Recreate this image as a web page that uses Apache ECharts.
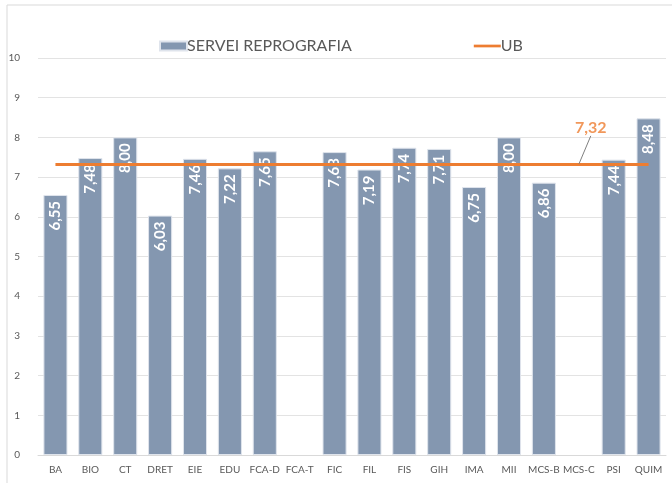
<!DOCTYPE html>
<html>
<head>
<meta charset="utf-8">
<script src="https://cdn.jsdelivr.net/npm/echarts@6/dist/echarts.min.js"></script>
<style>
  html, body { margin: 0; padding: 0; background: #fff; }
  #chart { width: 672px; height: 483px; }
</style>
</head>
<body>
<div id="chart"></div>
<script>
// Departments on the x axis
const categories = ['BA', 'BIO', 'CT', 'DRET', 'EIE', 'EDU', 'FCA-D', 'FCA-T', 'FIC', 'FIL',
  'FIS', 'GIH', 'IMA', 'MII', 'MCS-B', 'MCS-C', 'PSI', 'QUIM'];
// Satisfaction score per department (null = no data)
const reprografia = [6.55, 7.48, 8.00, 6.03, 7.46, 7.22, 7.65, null, 7.63, 7.19,
  7.74, 7.71, 6.75, 8.00, 6.86, null, 7.44, 8.48];
// University-wide average
const ubValue = 7.32;
const ubLabelIndex = 15;
const yTicks = [0, 1, 2, 3, 4, 5, 6, 7, 8, 9, 10];

const fmt = v => v.toFixed(2).replace('.', ',');

const chart = echarts.init(document.getElementById('chart'), null, { renderer: 'canvas' });

chart.setOption({
  animation: false,
  backgroundColor: '#ffffff',
  textStyle: { fontFamily: 'Lato, "Noto Sans", sans-serif' },
  graphic: [{
    type: 'rect',
    shape: { x: 7, y: 5, width: 700, height: 500 },
    style: { fill: 'none', stroke: '#d9d9d9', lineWidth: 1 },
    silent: true
  }],
  legend: {
    top: 38,
    left: 159,
    padding: 0,
    itemGap: 122,
    itemWidth: 27,
    itemHeight: 9,
    textStyle: { color: '#595959', fontSize: 16, padding: [0, 0, 0, -5] },
    data: [
      { name: 'SERVEI REPROGRAFIA', icon: 'rect' },
      { name: 'UB', icon: 'path://M0,3.5 L30,3.5 L30,6.5 L0,6.5 Z' }
    ]
  },
  grid: { left: 38, right: 6, top: 58, bottom: 28 },
  xAxis: {
    type: 'category',
    data: categories,
    axisLine: { lineStyle: { color: '#d9d9d9' } },
    axisTick: { show: false },
    axisLabel: { color: '#595959', fontSize: 10, interval: 0, margin: 10 }
  },
  yAxis: {
    type: 'value',
    min: yTicks[0],
    max: yTicks[yTicks.length - 1],
    interval: 1,
    axisLine: { show: false },
    axisTick: { show: false },
    axisLabel: { color: '#595959', fontSize: 10, margin: 18 },
    splitLine: { lineStyle: { color: '#e3e3e3' } }
  },
  series: [
    {
      name: 'SERVEI REPROGRAFIA',
      type: 'bar',
      data: reprografia,
      barWidth: '69%',
      itemStyle: { color: '#8497b0', borderColor: '#dfe4ec', borderWidth: 1 },
      label: {
        show: true,
        position: 'insideTop',
        rotate: 90,
        align: 'right',
        verticalAlign: 'middle',
        distance: 6,
        color: '#ffffff',
        fontWeight: 'bold',
        fontSize: 15,
        formatter: p => fmt(p.value)
      },
      z: 2
    },
    {
      name: 'UB',
      type: 'line',
      data: categories.map(() => ubValue),
      symbol: 'none',
      lineStyle: { color: '#ed7d31', width: 3 },
      itemStyle: { color: '#ed7d31' },
      z: 3,
      emphasis: { disabled: true }
    },
    {
      // invisible point carrying the average's value label and its guide line
      name: 'UB-label',
      type: 'scatter',
      data: categories.map((c, i) => i === ubLabelIndex ? ubValue : null),
      symbolSize: 1,
      itemStyle: { color: 'rgba(0,0,0,0)' },
      z: 4,
      label: {
        show: true,
        position: 'top',
        distance: 0,
        color: '#ed7d31',
        fontWeight: 'bold',
        fontSize: 16,
        formatter: p => fmt(p.value)
      },
      labelLine: { show: true, lineStyle: { color: '#808080', width: 1 } },
      labelLayout: { dx: 12, dy: -28 },
      silent: true
    }
  ]
});
</script>
</body>
</html>
